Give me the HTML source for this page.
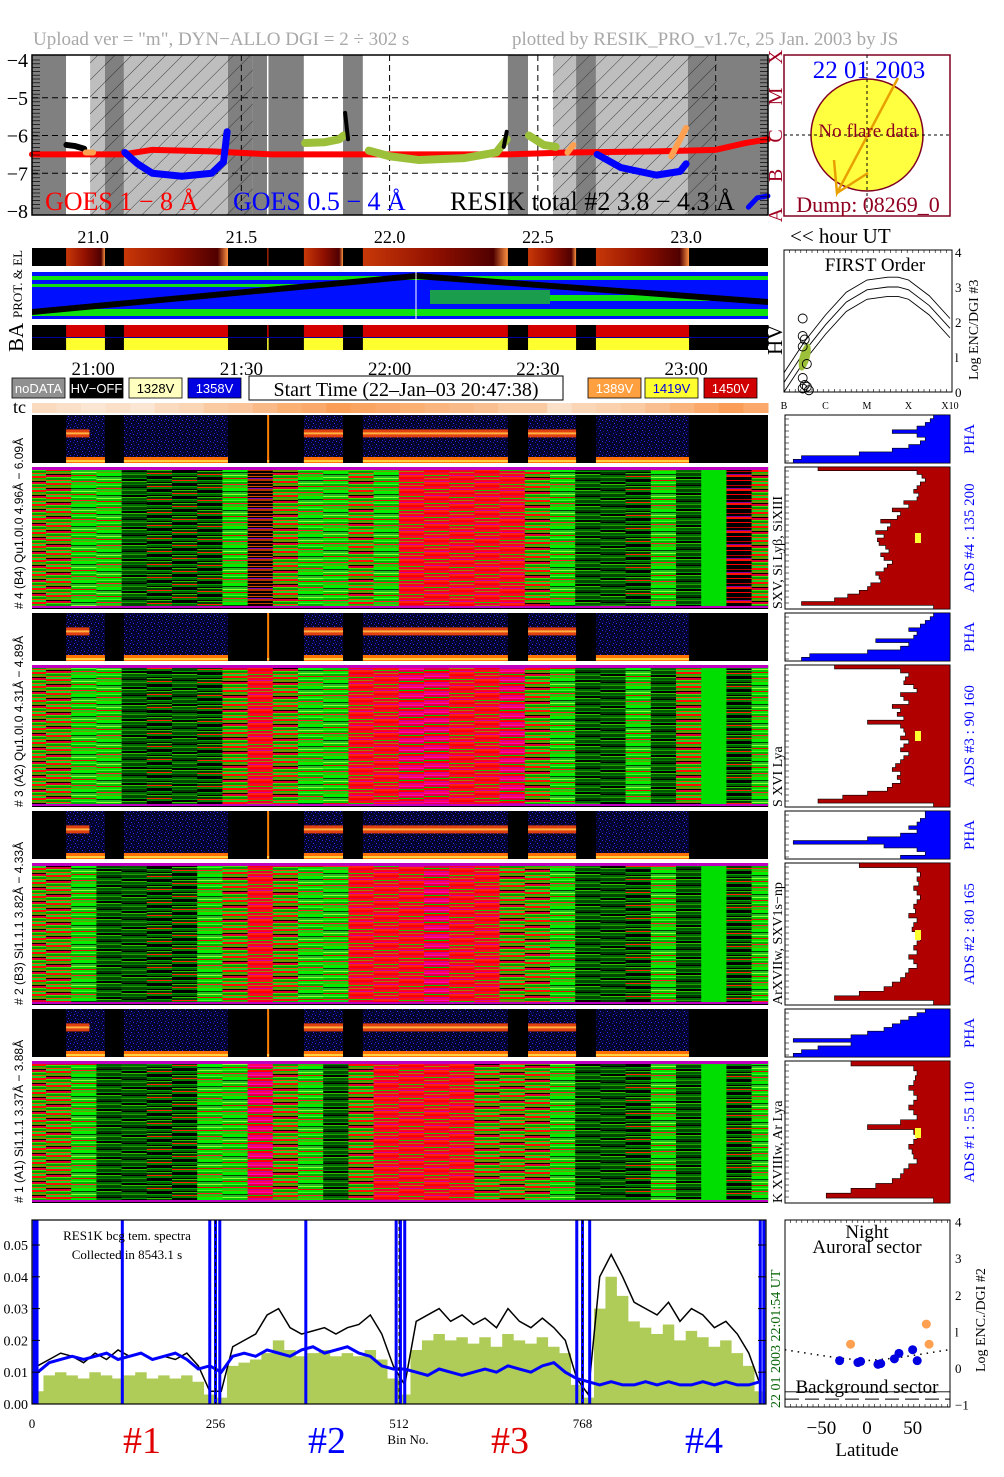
<!DOCTYPE html>
<html><head><meta charset="utf-8"><title>RESIK quicklook</title>
<style>
html,body{margin:0;padding:0;background:#fff;}
svg{display:block;}
text{font-family:"Liberation Serif",serif;}
.sans{font-family:"Liberation Sans",sans-serif;}
</style></head>
<body>
<svg id="root" width="1004" height="1477" viewBox="0 0 1004 1477" xmlns="http://www.w3.org/2000/svg">
<defs>
<pattern id="hatch" width="12" height="12" patternUnits="userSpaceOnUse" patternTransform="rotate(45)">
<line x1="0" y1="0" x2="0" y2="12" stroke="#222" stroke-width="0.8"/></pattern>
<pattern id="speck" width="7" height="7" patternUnits="userSpaceOnUse">
<rect width="7" height="7" fill="#05052a"/>
<rect x="0" y="0" width="1" height="1" fill="#2a2aff"/><rect x="3" y="1" width="1" height="1" fill="#1818b0"/>
<rect x="5" y="3" width="1" height="1" fill="#3030ff"/><rect x="1" y="4" width="1" height="1" fill="#1010a0"/>
<rect x="4" y="6" width="1" height="1" fill="#2020e0"/><rect x="6" y="5" width="1" height="1" fill="#101080"/>
</pattern>
</defs>
</svg>
<script>
// ===== data =====
const H0 = 20.794, H1 = 23.276;
const bgStart = [20.794,20.909,20.990,21.040,21.104,21.455,21.539,21.711,21.843,21.910,22.399,22.467,22.551,22.629,22.696,23.006,23.104];
const bgEnd   = [20.909,20.990,21.040,21.104,21.455,21.539,21.711,21.843,21.910,22.399,22.467,22.551,22.629,22.696,23.006,23.104,23.276];
const bgType  = ['dark','white','hatchL','hatchD','hatchL','hatchD','dark','white','dark','white','dark','white','hatchL','hatchD','hatchL','hatchD','dark'];
const segStart = [20.909,21.104,21.587,21.711,21.910,22.467,22.696];
const segEnd   = [21.040,21.455,21.592,21.843,22.399,22.629,23.010];
const segBand  = [1,0,0,1,1,1,0];
const goesRedH = [20.794,21.1,21.2,21.4,21.6,22.0,22.4,22.6,22.9,23.1,23.2,23.276];
const goesRedV = [-6.5,-6.5,-6.38,-6.42,-6.5,-6.5,-6.5,-6.45,-6.42,-6.38,-6.2,-6.1];
const goesBlue1H = [21.107,21.15,21.2,21.3,21.4,21.44,21.452];
const goesBlue1V = [-6.45,-6.75,-7.0,-7.08,-7.0,-6.7,-5.9];
const goesBlue2H = [22.70,22.78,22.9,22.98,23.0];
const goesBlue2V = [-6.5,-6.85,-7.05,-6.95,-6.75];
const goesBlue3H = [23.21,23.24,23.276];
const goesBlue3V = [-7.9,-7.65,-7.6];
const resikG1H = [21.715,21.78,21.83,21.845];
const resikG1V = [-6.2,-6.18,-6.1,-6.0];
const resikG2H = [21.93,22.0,22.1,22.25,22.36,22.395];
const resikG2V = [-6.4,-6.55,-6.65,-6.6,-6.45,-6.1];
const resikG3H = [22.47,22.52,22.56];
const resikG3V = [-6.0,-6.25,-6.3];
const resikKH = [20.91,20.94,20.97];
const resikKV = [-6.25,-6.28,-6.35];
const resikOH = [20.975,21.0,22.6,22.62,22.95,23.0];
const resikOV = [-6.45,-6.45,-6.45,-6.25,-6.55,-5.8];
const heat1 = ['M','M','G','G','D','K','K','K','G','O','M','G','G','M','G','R','R','R','R','R','M','G','D','D','K','G','D','S','B','M'];
const heat2 = ['M','M','G','G','D','K','D','K','M','R','M','G','G','R','R','P','P','R','R','P','M','G','D','D','G','D','M','S','K','G'];
const heat3 = ['M','M','G','D','D','K','K','G','M','R','M','G','G','R','R','R','P','R','R','M','M','G','D','D','K','G','D','S','K','G'];
const heat4 = ['M','M','G','D','D','K','K','G','G','P','M','G','D','M','R','R','R','R','M','M','M','G','D','D','K','G','D','S','K','G'];
const tcLevels = [0.15,0.1,0.05,0.1,0.05,0.15,0.2,0.3,0.35,0.45,0.55,0.6,0.7,0.65,0.6,0.55,0.5,0.45,0.4,0.3,0.3,0.1,0.2,0.25,0.3,0.4,0.5,0.6,0.7,0.6];
const pha1 = [0.1,0.12,0.15,0.2,0.35,0.2,0.15,0.18,0.25,0.35,0.55,0.9,0.95];
const pha2 = [0.1,0.12,0.15,0.18,0.25,0.2,0.22,0.45,0.25,0.3,0.5,0.85,0.9];
const pha3 = [0.15,0.15,0.18,0.2,0.25,0.2,0.3,0.5,0.95,0.4,0.2,0.15,0.3];
const pha4 = [0.15,0.2,0.25,0.3,0.35,0.4,0.5,0.6,0.95,0.6,0.8,0.9,0.95];
const ads1 = [0.8,0.2,0.17,0.15,0.18,0.2,0.22,0.19,0.2,0.28,0.25,0.35,0.3,0.32,0.42,0.36,0.38,0.45,0.4,0.44,0.43,0.39,0.37,0.42,0.4,0.35,0.38,0.4,0.45,0.43,0.42,0.48,0.5,0.55,0.62,0.7,0.9,0.1];
const ads2 = [0.7,0.3,0.25,0.27,0.28,0.22,0.2,0.3,0.28,0.25,0.35,0.3,0.32,0.28,0.5,0.3,0.28,0.27,0.3,0.25,0.28,0.3,0.25,0.28,0.3,0.33,0.35,0.3,0.32,0.3,0.35,0.38,0.5,0.65,0.8,0.1];
const ads3 = [0.55,0.2,0.18,0.2,0.19,0.22,0.2,0.18,0.2,0.22,0.21,0.25,0.2,0.22,0.23,0.2,0.18,0.2,0.22,0.2,0.25,0.22,0.2,0.25,0.27,0.3,0.35,0.4,0.55,0.7,0.1];
const ads4 = [0.6,0.22,0.2,0.21,0.22,0.25,0.22,0.2,0.22,0.25,0.22,0.2,0.3,0.5,0.22,0.2,0.22,0.25,0.23,0.22,0.2,0.25,0.28,0.3,0.35,0.45,0.6,0.75,0.1];
const specGreen = [0.004,0.009,0.010,0.009,0.008,0.010,0.009,0.008,0.009,0.010,0.008,0.009,0.008,0.009,0.007,0.003,
 0.002,0.012,0.013,0.014,0.016,0.020,0.017,0.015,0.016,0.017,0.015,0.016,0.015,0.017,0.014,0.008,
 0.003,0.017,0.020,0.022,0.020,0.021,0.019,0.021,0.018,0.022,0.020,0.019,0.021,0.018,0.016,0.006,
 0.002,0.030,0.040,0.034,0.026,0.024,0.022,0.025,0.020,0.023,0.021,0.018,0.020,0.016,0.012,0.004];
const specBlack = [0.012,0.014,0.016,0.015,0.013,0.016,0.014,0.017,0.015,0.016,0.014,0.015,0.014,0.016,0.012,0.004,
 0.004,0.018,0.020,0.022,0.028,0.030,0.024,0.022,0.023,0.024,0.022,0.024,0.025,0.028,0.022,0.012,
 0.006,0.026,0.028,0.030,0.026,0.028,0.025,0.027,0.024,0.030,0.026,0.024,0.027,0.024,0.020,0.008,
 0.003,0.040,0.047,0.040,0.032,0.030,0.028,0.032,0.026,0.030,0.028,0.024,0.026,0.022,0.016,0.006];
const specBlue = [0.010,0.013,0.014,0.015,0.014,0.015,0.016,0.014,0.015,0.016,0.014,0.015,0.016,0.014,0.011,0.012,
 0.010,0.015,0.016,0.015,0.017,0.016,0.015,0.017,0.018,0.016,0.017,0.018,0.016,0.015,0.012,0.011,
 0.011,0.010,0.009,0.011,0.010,0.009,0.010,0.011,0.010,0.012,0.011,0.010,0.012,0.013,0.010,0.008,
 0.007,0.006,0.007,0.006,0.006,0.007,0.006,0.007,0.006,0.006,0.007,0.006,0.007,0.006,0.006,0.007];
const blueSpikes = [3,7,126,248,256,262,382,508,514,520,760,768,778,1016,1021];
const latBlue = [-30,-10,-7,12,15,30,35,50,55];
const encBlue = [0.2,0.15,0.18,0.1,0.12,0.25,0.4,0.5,0.2];
const latOrange = [-18,65,68];
const encOrange = [0.65,1.2,0.65];
const latCurve = [-90,-60,-30,0,30,60,90];
const encCurve = [0.5,0.38,0.27,0.2,0.27,0.38,0.5];
const hvCurveX = [0,0.5,1,1.5,2,2.5,2.75,3,3.5,4];
const hvCurveY = [0.55,1.45,2.2,2.85,3.2,3.28,3.28,3.2,2.75,2.1];
const hvPtsX = [0.45,0.45,0.5,0.45,0.55,0.45,0.5,0.45,0.55,0.6];
const hvPtsY = [2.1,1.6,1.5,1.3,0.8,0.4,0.2,0.1,0.15,0.05];

// ===== helpers =====
const NS = 'http://www.w3.org/2000/svg';
const root = document.getElementById('root');
function mk(tag, attrs, parent){ const e=document.createElementNS(NS,tag); for(const k in attrs) e.setAttribute(k,attrs[k]); (parent||root).appendChild(e); return e; }
function txt(s, attrs, parent){ const e=mk('text',attrs,parent); e.textContent=s; return e; }
const tx = h => 32 + (h - H0) * 296.5;
const gy = v => 60 + (-4 - v) * 37.75;
const sx = b => 32 + b * 0.7168;
const sy = v => 1404 - v * 3180;
const hx = c => 784 + c * 41.5;
const hy = v => 392 - v * 35;
const lx = l => 867 + l * 0.913;
const ly = v => 1368 - v * 36.6;

let t = txt('Upload ver = "m", DYN\u2212ALLO DGI =   2 \u00f7 302 s',{x:33,y:45,'font-size':19,fill:'#a8a8a8'});


t = txt('plotted by RESIK_PRO_v1.7c, 25 Jan. 2003 by JS',{x:512,y:45,'font-size':19,fill:'#a8a8a8'});



// ===== top GOES panel =====
const gTop = mk('g',{});


for(let i=0;i<bgStart.length;i++){
  const x0=tx(bgStart[i]), w=tx(bgEnd[i])-x0, ty=bgType[i];
  const fill = ty==='dark'||ty==='hatchD' ? '#808080' : ty==='white' ? '#ffffff' : '#bebebe';
  const r = mk('rect',{x:x0,y:55,width:w,height:160,fill:fill},gTop);
  
  
  if(ty.startsWith('hatch')) mk('rect',{x:x0,y:55,width:w,height:160,fill:'url(#hatch)'},gTop);
}
mk('line',{x1:tx(21.589),x2:tx(21.589),y1:55,y2:215,stroke:'#fff','stroke-width':1.5},gTop);
[-5,-6,-7].forEach(v=>mk('line',{x1:32,x2:768,y1:gy(v),y2:gy(v),stroke:'#000','stroke-dasharray':'6,4','stroke-width':1},gTop));
[21.5,22.0,22.5,23.1].forEach(h=>mk('line',{x1:tx(h),x2:tx(h),y1:55,y2:215,stroke:'#000','stroke-dasharray':'6,4','stroke-width':1},gTop));
function poly(hs,vs,col,w,name){ const p=mk('polyline',{points:hs.map((h,i)=>tx(h)+','+gy(vs[i])).join(' '),fill:'none',stroke:col,'stroke-width':w,'stroke-linejoin':'round','stroke-linecap':'round'},gTop);   return p; }
poly(goesRedH,goesRedV,'#ff0000',6,'goes-1-8-line');
poly(goesBlue1H,goesBlue1V,'#0000ff',7,'goes-05-4-line-1');
poly(goesBlue2H,goesBlue2V,'#0000ff',7,'goes-05-4-line-2');
poly(goesBlue3H,goesBlue3V,'#0000ff',5,'goes-05-4-line-3');
poly(resikG1H,resikG1V,'#9dc03a',8,'resik-total-1');
poly(resikG2H,resikG2V,'#9dc03a',8,'resik-total-2');
poly(resikG3H,resikG3V,'#9dc03a',8,'resik-total-3');
poly(resikKH,resikKV,'#000',6,'resik-total-black');
for(let i=0;i<resikOH.length;i+=2) poly(resikOH.slice(i,i+2),resikOV.slice(i,i+2),'#ffa050',6,'resik-total-orange');
poly([21.85,21.86],[-5.4,-6.1],'#000',4,'resik-rise');
poly([22.385,22.395],[-6.3,-5.9],'#000',4,'resik-rise-2');
for(let i=0;i<40;i++) mk('line',{x1:32,x2:40,y1:60+i*3.8,y2:60+i*3.8,stroke:'#000','stroke-width':0.7},gTop);
for(let i=0;i<40;i++) mk('line',{x1:760,x2:768,y1:60+i*3.8,y2:60+i*3.8,stroke:'#000','stroke-width':0.7},gTop);
mk('rect',{x:32,y:55,width:736,height:160,fill:'none',stroke:'#000','stroke-width':1.5},gTop);
[-4,-5,-6,-7,-8].forEach(v=>{ const e=txt('\u2212'+(-v),{x:28,y:gy(v)+7,'font-size':20,'text-anchor':'end'});   });
t=txt('GOES 1 \u2212 8 \u00c5',{x:45,y:210,'font-size':26,fill:'#ff0000'});  
t=txt('GOES 0.5 \u2212 4 \u00c5',{x:233,y:210,'font-size':26,fill:'#0000ff'});  
t=txt('RESIK total #2  3.8 \u2212 4.3 \u00c5',{x:450,y:210,'font-size':26,fill:'#000'});  
const classL=['X','M','C','B','A'];
classL.forEach((c,i)=>{ const y=57+i*39.5; const e=txt(c,{x:0,y:0,'font-size':20,fill:'#a00020',transform:`translate(782,${y}) rotate(-90)`,'text-anchor':'middle'});   });

// sun box
const sun=mk('g',{});  
mk('rect',{x:784,y:55,width:166,height:161,fill:'#fff',stroke:'#800020','stroke-width':1.5},sun);
mk('circle',{cx:867,cy:135,r:56,fill:'#ffff40',stroke:'#800020','stroke-width':1.5},sun);
mk('line',{x1:784,x2:950,y1:135,y2:135,stroke:'#000','stroke-dasharray':'3,3'},sun);
mk('line',{x1:867,x2:867,y1:55,y2:216,stroke:'#000','stroke-dasharray':'3,3'},sun);
mk('polyline',{points:'898,78 837,193 834,160',fill:'none',stroke:'#e8a000','stroke-width':2.5},sun);
mk('polyline',{points:'837,193 868,173',fill:'none',stroke:'#e8a000','stroke-width':2.5},sun);
t=txt('22 01 2003',{x:869,y:78,'font-size':25,fill:'#0000ff','text-anchor':'middle'},sun);  
t=txt('No flare data',{x:868,y:137,'font-size':19,fill:'#900020','text-anchor':'middle'},sun);  
t=txt('Dump: 08269_0',{x:868,y:212,'font-size':22,fill:'#900020','text-anchor':'middle'},sun);  

const hourTicks=[21.0,21.5,22.0,22.5,23.0];
hourTicks.forEach(h=>{ const e=txt(h.toFixed(1),{x:tx(h),y:243,'font-size':18,'text-anchor':'middle'});   });
t=txt('<< hour UT',{x:790,y:243,'font-size':21});  

// particle strip
const strip=mk('g',{});  
mk('rect',{x:32,y:248,width:736,height:18,fill:'#000'},strip);
const pg=mk('linearGradient',{id:'pgrad',x1:0,x2:1,y1:0,y2:0},root.querySelector('defs'));
mk('stop',{offset:0,'stop-color':'#c83808'},pg);mk('stop',{offset:0.5,'stop-color':'#901000'},pg);mk('stop',{offset:0.9,'stop-color':'#500000'},pg);mk('stop',{offset:1,'stop-color':'#ff9040'},pg);
segStart.forEach((s,i)=>{ const r=mk('rect',{x:tx(s),y:248,width:Math.max(1.5,tx(segEnd[i])-tx(s)),height:18,fill:'url(#pgrad)'},strip);   });
// prot map
const prot=mk('g',{});  
mk('rect',{x:32,y:272,width:736,height:47,fill:'#0010ff'},prot);
mk('rect',{x:32,y:276,width:736,height:4,fill:'#10e010'},prot);
mk('rect',{x:32,y:284,width:300,height:3,fill:'#10e010'},prot);
mk('rect',{x:32,y:309,width:736,height:7,fill:'#10e010'},prot);
mk('rect',{x:430,y:290,width:120,height:14,fill:'#20c020',opacity:0.8},prot);
mk('rect',{x:550,y:295,width:160,height:6,fill:'#10e010'},prot);
mk('polygon',{points:'32,309 416,273 768,299 768,305 416,279 32,315',fill:'#000'},prot);
mk('line',{x1:416,x2:416,y1:272,y2:319,stroke:'#fff','stroke-width':1},prot);
t=txt('PROT. & EL',{x:0,y:0,'font-size':13,transform:'translate(22,318) rotate(-90)'});  
// BA
const ba=mk('g',{});  
mk('rect',{x:32,y:325,width:736,height:25,fill:'#000'},ba);
segStart.forEach((s,i)=>{ const w=Math.max(1.5,tx(segEnd[i])-tx(s)); mk('rect',{x:tx(s),y:325,width:w,height:12,fill:'#d40000'},ba); mk('rect',{x:tx(s),y:338,width:w,height:12,fill:'#ffff30'},ba); });
mk('line',{x1:32,x2:768,y1:337.5,y2:337.5,stroke:'#0000a0','stroke-width':1},ba);
t=txt('BA',{x:0,y:0,'font-size':21,transform:'translate(23,352) rotate(-90)'});  

const clockLabels=['21:00','21:30','22:00','22:30','23:00'];
clockLabels.forEach((c,i)=>{ const e=txt(c,{x:tx(hourTicks[i]),y:375,'font-size':19,'text-anchor':'middle'});   });
const legT=['noDATA','HV\u2212OFF','1328V','1358V','1389V','1419V','1450V'];
const legX=[12,70,129,188,588,645,704];
const legBg=['#909090','#000','#ffffc0','#0000e0','#ffa040','#ffff30','#d00000'];
const legFg=['#fff','#fff','#000','#fff','#fff','#0000e0','#fff'];
legT.forEach((s,i)=>{ const g=mk('g',{});  
  mk('rect',{x:legX[i],y:378,width:53,height:20,fill:legBg[i],stroke:'#000','stroke-width':0.8},g);
  txt(s,{x:legX[i]+26.5,y:393,'font-size':13,fill:legFg[i],'text-anchor':'middle','class':'sans'},g); });
const stBox=mk('g',{});  
mk('rect',{x:249,y:376,width:314,height:24,fill:'#fff',stroke:'#000','stroke-width':1},stBox);
txt('Start Time (22\u2013Jan\u201303 20:47:38)',{x:406,y:396,'font-size':20,'text-anchor':'middle'},stBox);
t=txt('tc',{x:13,y:413,'font-size':18});  
tcLevels.forEach((v,i)=>{ const x0=32+i*736/30; const c=`rgb(250,${Math.round(235-v*110)},${Math.round(220-v*190)})`; const r=mk('rect',{x:x0,y:403,width:736/30+0.5,height:10,fill:c});   });

// HV plot
const hv=mk('g',{});  
mk('rect',{x:784,y:250,width:168,height:142,fill:'#fff',stroke:'#000','stroke-width':1},hv);
for(let i=0;i<30;i++){ mk('line',{x1:784+i*5.6,x2:784+i*5.6,y1:250,y2:253,stroke:'#000','stroke-width':0.6},hv); mk('line',{x1:784+i*5.6,x2:784+i*5.6,y1:392,y2:389,stroke:'#000','stroke-width':0.6},hv);}
[0,-0.28,-0.55].forEach(off=>{ const p=mk('polyline',{points:hvCurveX.map((c,i)=>hx(c)+','+hy(hvCurveY[i]+off)).join(' '),fill:'none',stroke:'#000','stroke-width':0.9},hv);   });
mk('ellipse',{cx:hx(0.5),cy:hy(1.0),rx:5,ry:14,fill:'#9dc03a',transform:`rotate(15 ${hx(0.5)} ${hy(1.0)})`},hv);
hvPtsX.forEach((c,i)=>{ const e=mk('circle',{cx:hx(c),cy:hy(hvPtsY[i]),r:4.5,fill:'none',stroke:'#000','stroke-width':0.9},hv);   });
txt('FIRST Order',{x:875,y:271,'font-size':19,'text-anchor':'middle'},hv);
[0,1,2,3,4].forEach(v=>txt(v===1?'l':String(v),{x:955,y:hy(v)+5,'font-size':13},hv));
txt('Log ENC/DGI #3',{x:0,y:0,'font-size':14,transform:'translate(978,380) rotate(-90)'},hv);
['B','C','M','X','X10'].forEach((c,i)=>txt(c,{x:hx(i),y:409,'font-size':10,'text-anchor':'middle'},hv));
t=txt('HV',{x:0,y:0,'font-size':21,transform:'translate(782,355) rotate(-90)'});  

// ===== heatmap patterns =====
const palettes={
 G:[[2,'#00e000'],[1,'#40ff20'],[2,'#00b000'],[1,'#ff2020'],[2,'#10d010'],[1,'#70a000'],[3,'#00f000'],[1,'#004000'],[2,'#20c020'],[1,'#90ff30'],[2,'#00c800'],[1,'#e01000']],
 D:[[2,'#005800'],[1,'#008000'],[2,'#003800'],[1,'#000'],[2,'#006a00'],[1,'#20a000'],[3,'#004800'],[1,'#00a000'],[2,'#000'],[1,'#30c000']],
 K:[[2,'#000'],[1,'#00a000'],[2,'#006000'],[1,'#000'],[1,'#30c000'],[2,'#004000'],[1,'#ff2000'],[2,'#008000'],[1,'#000']],
 R:[[2,'#ff0000'],[1,'#e00050'],[2,'#ff1010'],[1,'#20c000'],[2,'#f00030'],[1,'#a08000'],[2,'#ff0020'],[1,'#d000a0'],[2,'#ff2010']],
 M:[[2,'#ff1000'],[1,'#00c000'],[2,'#709000'],[1,'#000'],[2,'#e00030'],[1,'#40e000'],[2,'#00a000'],[1,'#ff4000'],[2,'#20d020']],
 O:[[2,'#000'],[1,'#c04000'],[2,'#100000'],[1,'#d05000'],[1,'#000'],[1,'#8000c0'],[2,'#b03000']],
 P:[[2,'#ff0060'],[1,'#ff00c0'],[2,'#e00040'],[1,'#00c000'],[2,'#ff0000'],[1,'#c000a0']],
 S:[[4,'#00dd00']],
 B:[[3,'#000'],[1,'#ff0000'],[4,'#000'],[1,'#c00000'],[2,'#000'],[1,'#8000a0'],[2,'#ff1000']]
};
const defs=root.querySelector('defs');
for(const k in palettes){ const pal=palettes[k]; const h=pal.reduce((a,b)=>a+b[0],0);
  const p=mk('pattern',{id:'hp-'+k,width:30,height:h,patternUnits:'userSpaceOnUse'},defs); let y=0;
  pal.forEach(s=>{ mk('rect',{x:0,y:y,width:30,height:s[0],fill:s[1]},p); y+=s[0]; }); }
function colX(k){ return k===0?32:46+25.2*(k-1); }
function colW(k){ return k===0?14:(k===29?768-colX(29):25.2); }
function drawHeat(codes,y0,y1,name){
  const g=mk('g',{});  
  codes.forEach((c,k)=>{ const off=(k*7)%13; const gg=mk('g',{transform:`translate(0,${off})`},g);
    const r=mk('rect',{x:colX(k),y:y0-off,width:colW(k)+0.3,height:y1-y0,fill:'url(#hp-'+c+')'},gg);
      });
  mk('rect',{x:32,y:y0,width:736,height:3,fill:'#c000c0'},g);
  mk('rect',{x:32,y:y1-3,width:736,height:3,fill:'#c000c0'},g);
  mk('rect',{x:32,y:y1-1,width:736,height:1,fill:'#000'},g);
}
function drawPHA(y0,y1,name){
  const g=mk('g',{});  
  mk('rect',{x:32,y:y0,width:736,height:y1-y0,fill:'#000'},g);
  segStart.forEach((s,i)=>{ const x0=tx(s), w=Math.max(2,tx(segEnd[i])-x0);
    const r=mk('rect',{x:x0,y:y0,width:w,height:y1-y0,fill:w>3?'url(#speck)':'#ff8000'},g);  
    mk('rect',{x:x0,y:y1-6,width:w,height:6,fill:'#ff7000'},g); mk('rect',{x:x0,y:y1-3,width:w,height:2,fill:'#ffd040'},g);
    if(segBand[i]){ const bw = i===0?w*0.6:w; mk('rect',{x:x0,y:y0+(y1-y0)*0.3,width:bw,height:8,fill:'#e04010'},g); mk('rect',{x:x0,y:y0+(y1-y0)*0.3+3,width:bw,height:2,fill:'#ffb040'},g);} });
}
function drawHist(prof,y0,y1,col,name,yellowY){
  const g=mk('g',{});  
  mk('rect',{x:785,y:y0,width:165,height:y1-y0,fill:'#fff',stroke:'#000','stroke-width':1},g);
  const n=prof.length, dh=(y1-y0)/n; let pts=[950+','+y0];
  prof.forEach((v,i)=>{ const x=950-v*165; pts.push(x+','+(y0+i*dh)); pts.push(x+','+(y0+(i+1)*dh)); });
  pts.push(950+','+y1);
  const p=mk('polygon',{points:pts.join(' '),fill:col,stroke:'#000','stroke-width':0.6},g);  
  for(let y=y0+4;y<y1;y+=6) mk('line',{x1:785,x2:789,y1:y,y2:y,stroke:'#000','stroke-width':0.6},g);
  if(yellowY) mk('rect',{x:915,y:yellowY,width:6,height:10,fill:'#ffff30'},g);
}
const blocks=[
 {pha:[415,463],heat:[467,609],codes:heat1,phaP:pha1,adsP:ads1,yy:533,left:'# 4 (B4) Qu1.0l.0 4.96\u00c5 \u2212 6.09\u00c5',right:'SXV, Si Ly\u03b2, SiXIII',ads:'ADS #4 :   135 200'},
 {pha:[613,661],heat:[665,807],codes:heat2,phaP:pha2,adsP:ads2,yy:731,left:'# 3 (A2) Qu1.0l.0 4.31\u00c5 \u2212 4.89\u00c5',right:'S XVI Lya',ads:'ADS #3 :    90 160'},
 {pha:[811,859],heat:[863,1005],codes:heat3,phaP:pha3,adsP:ads3,yy:930,left:'# 2 (B3) Si1.1.1  3.82\u00c5 \u2212 4.33\u00c5',right:'ArXVIIw, SXV1s\u2212np',ads:'ADS #2 :    80 165'},
 {pha:[1009,1057],heat:[1061,1203],codes:heat4,phaP:pha4,adsP:ads4,yy:1128,left:'# 1 (A1) Si1.1.1  3.37\u00c5 \u2212 3.88\u00c5',right:'K XVIIIw, Ar Lya',ads:'ADS #1 :    55 110'}
];
blocks.forEach((b,i)=>{
  drawPHA(b.pha[0],b.pha[1],'pha-strip-'+(4-i));
  drawHeat(b.codes,b.heat[0],b.heat[1],'heatmap-'+(4-i));
  drawHist(b.phaP,b.pha[0],b.pha[1],'#0000ff','pha-histogram-'+(4-i));
  drawHist(b.adsP,b.heat[0],b.heat[1],'#b00000','ads-histogram-'+(4-i),b.yy);
  let e=txt(b.left,{x:0,y:0,'font-size':12,'class':'sans',transform:`translate(23,${b.heat[1]}) rotate(-90)`});  
  e=txt(b.right,{x:0,y:0,'font-size':14,transform:`translate(782,${b.heat[1]}) rotate(-90)`});  
  e=txt('PHA',{x:0,y:0,'font-size':15,fill:'#0000ff','text-anchor':'middle',transform:`translate(974,${(b.pha[0]+b.pha[1])/2}) rotate(-90)`});  
  e=txt(b.ads,{x:0,y:0,'font-size':15,fill:'#0000ff','text-anchor':'middle',transform:`translate(974,${(b.heat[0]+b.heat[1])/2}) rotate(-90)`});  
});

// ===== bottom spectrum =====
const sp=mk('g',{});  
mk('rect',{x:32,y:1220,width:734,height:184,fill:'#fff'},sp);
const step=16;
let gp=[sx(0)+','+sy(0)];
specGreen.forEach((v,i)=>{ gp.push(sx(i*step)+','+sy(v)); gp.push(sx((i+1)*step)+','+sy(v)); });
gp.push(sx(1024)+','+sy(0));
let e=mk('polygon',{points:gp.join(' '),fill:'#b0cc58'},sp);  
e=mk('polyline',{points:specBlack.map((v,i)=>sx(i*step+8)+','+sy(v)).join(' '),fill:'none',stroke:'#000','stroke-width':1.5},sp);  
e=mk('polyline',{points:specBlue.map((v,i)=>sx(i*step+8)+','+sy(v)).join(' '),fill:'none',stroke:'#0000ff','stroke-width':3},sp);  
blueSpikes.forEach(b=>{ const l=mk('line',{x1:sx(b),x2:sx(b),y1:1220,y2:1404,stroke:'#0000ff','stroke-width':3},sp);   });
[256,512,768].forEach(b=>mk('line',{x1:sx(b),x2:sx(b),y1:1220,y2:1404,stroke:'#000','stroke-dasharray':'4,3'},sp));
mk('rect',{x:32,y:1220,width:734,height:184,fill:'none',stroke:'#000','stroke-width':1.2},sp);
const specTicks=[0.00,0.01,0.02,0.03,0.04,0.05];
specTicks.forEach(v=>{ mk('line',{x1:32,x2:40,y1:sy(v),y2:sy(v),stroke:'#000'},sp); mk('line',{x1:758,x2:766,y1:sy(v),y2:sy(v),stroke:'#000'},sp);
  const e=txt(v.toFixed(2),{x:28,y:sy(v)+5,'font-size':14,'text-anchor':'end'},sp);   });
const binTicks=[0,256,512,768];
binTicks.forEach(b=>{ const e=txt(String(b),{x:sx(b),y:1428,'font-size':13,'text-anchor':'middle'},sp);   });
txt('Bin No.',{x:408,y:1444,'font-size':13,'text-anchor':'middle'},sp);
txt('RES1K bcg tem. spectra',{x:127,y:1240,'font-size':13,'text-anchor':'middle'},sp);
txt('Collected in  8543.1 s',{x:127,y:1259,'font-size':13,'text-anchor':'middle'},sp);
txt('22 01 2003    22:01:54 UT',{x:0,y:0,'font-size':14,fill:'#006000',transform:'translate(780,1408) rotate(-90)'},sp);
const secLabels=['#1','#2','#3','#4'], secCols=['#e00000','#0000ff','#e00000','#0000ff'], secX=[142,327,510,704];
secLabels.forEach((s,i)=>{ const e=txt(s,{x:secX[i],y:1453,'font-size':38,fill:secCols[i],'text-anchor':'middle'});   });

// ===== latitude plot =====
const lp=mk('g',{});  
mk('rect',{x:785,y:1220,width:165,height:187,fill:'#fff',stroke:'#000','stroke-width':1},lp);
for(let i=0;i<30;i++){ mk('line',{x1:785+i*5.6,x2:785+i*5.6,y1:1220,y2:1223,stroke:'#000','stroke-width':0.6},lp); mk('line',{x1:785+i*5.6,x2:785+i*5.6,y1:1407,y2:1404,stroke:'#000','stroke-width':0.6},lp);}
e=mk('polyline',{points:latCurve.map((l,i)=>lx(l)+','+ly(encCurve[i])).join(' '),fill:'none',stroke:'#000','stroke-width':1.5,'stroke-dasharray':'1.5,5'},lp);  
mk('line',{x1:785,x2:950,y1:ly(-0.85),y2:ly(-0.85),stroke:'#000','stroke-dasharray':'14,6'},lp);
mk('line',{x1:785,x2:950,y1:ly(-0.65),y2:ly(-0.65),stroke:'#000','stroke-width':0.8},lp);
latBlue.forEach((l,i)=>{ const c=mk('circle',{cx:lx(l),cy:ly(encBlue[i]),r:4.5,fill:'#0000e0'},lp);   });
latOrange.forEach((l,i)=>{ const c=mk('circle',{cx:lx(l),cy:ly(encOrange[i]),r:4.5,fill:'#ffa050'},lp);   });
txt('Night',{x:867,y:1238,'font-size':19,'text-anchor':'middle'},lp);
txt('Auroral sector',{x:867,y:1253,'font-size':19,'text-anchor':'middle'},lp);
txt('Background sector',{x:867,y:1393,'font-size':19,'text-anchor':'middle'},lp);
const latTicks=[-50,0,50];
latTicks.forEach(l=>{ const e=txt(l<0?'\u221250':String(l),{x:lx(l),y:1434,'font-size':19,'text-anchor':'middle'},lp);   });
txt('Latitude',{x:867,y:1456,'font-size':19,'text-anchor':'middle'},lp);
[4,3,2,1,0,-1].forEach(v=>txt(v<0?'\u22121':(v===1?'l':String(v)),{x:955,y:ly(v)+5,'font-size':13},lp));
txt('Log ENC./DGI #2',{x:0,y:0,'font-size':14,transform:'translate(985,1372) rotate(-90)'},lp);
</script>
</body></html>
